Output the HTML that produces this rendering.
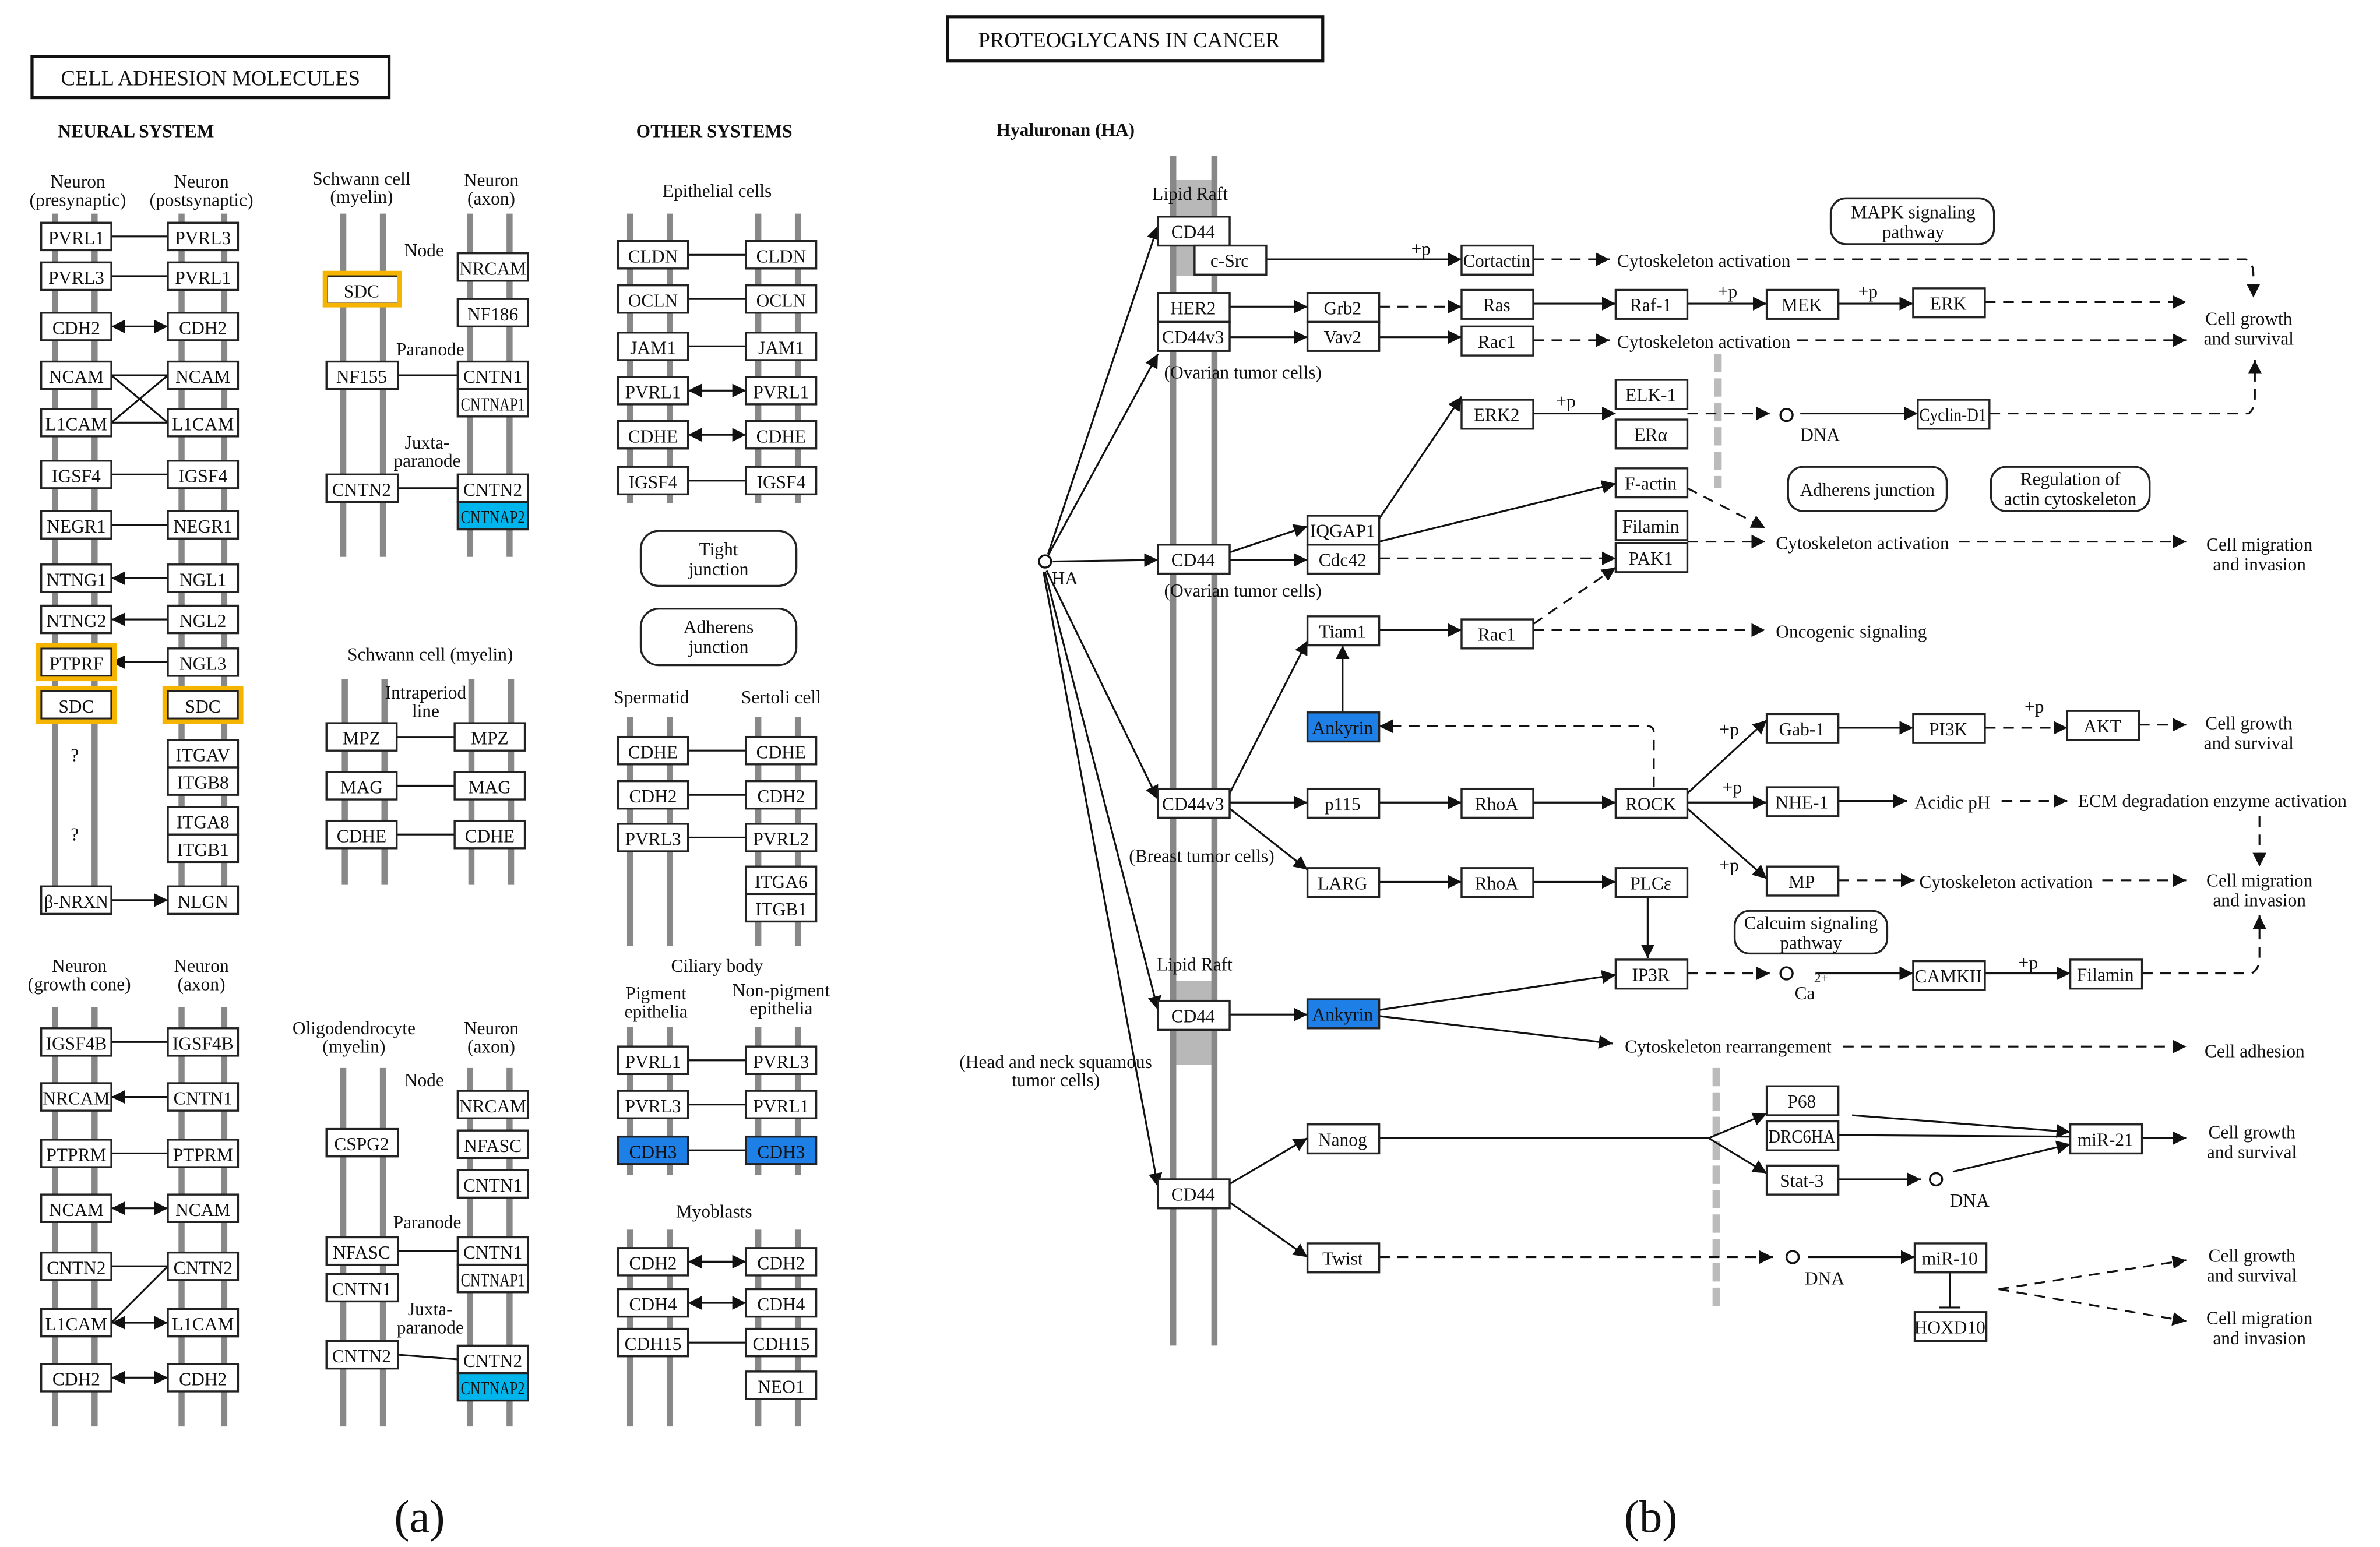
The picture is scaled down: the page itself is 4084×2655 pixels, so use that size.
<!DOCTYPE html>
<html><head><meta charset="utf-8"><style>
html,body{margin:0;padding:0;background:#fff;}
svg{display:block;}
text{font-family:"Liberation Serif",serif;font-size:12px;fill:#111;}
.b rect,rect.b{fill:#fff;stroke:#222;stroke-width:1.3;}
.t{text-anchor:middle;}
.m{stroke:#888;stroke-width:4;}
.l{stroke:#111;stroke-width:1.2;fill:none;}
.d{stroke:#111;stroke-width:1.2;fill:none;stroke-dasharray:7,5;}
.y{fill:none;stroke:#f5b400;stroke-width:3;}
.rb{fill:#fff;stroke:#222;stroke-width:1.3;}
</style></head><body>
<svg width="4084" height="2655" viewBox="0 0 1560 1014" preserveAspectRatio="none" xmlns="http://www.w3.org/2000/svg">
<defs>
<marker id="a" viewBox="0 0 10 10" refX="10" refY="5" markerWidth="9" markerHeight="9" markerUnits="userSpaceOnUse" orient="auto-start-reverse"><path d="M0,0L10,5L0,10z" fill="#111"/></marker>
</defs>
<rect width="1560" height="1014" fill="#fff"/>

<!-- ================= PANEL A ================= -->
<rect x="21" y="37" width="234" height="27" fill="#fff" stroke="#111" stroke-width="2"/>
<text x="138" y="56" class="t" style="font-size:14px">CELL ADHESION MOLECULES</text>
<text x="38" y="90" style="font-weight:bold;font-size:12px">NEURAL SYSTEM</text>
<text x="417" y="90" style="font-weight:bold;font-size:12px">OTHER SYSTEMS</text>

<!-- col1 section1 -->
<text x="51" y="123" class="t">Neuron</text><text x="51" y="135" class="t">(presynaptic)</text>
<text x="132" y="123" class="t">Neuron</text><text x="132" y="135" class="t">(postsynaptic)</text>
<line class="m" x1="36" y1="140" x2="36" y2="600"/><line class="m" x1="62" y1="140" x2="62" y2="600"/>
<line class="m" x1="119" y1="140" x2="119" y2="600"/><line class="m" x1="147" y1="140" x2="147" y2="600"/>
<g class="l">
<line x1="73" y1="155" x2="110" y2="155"/><line x1="73" y1="181" x2="110" y2="181"/>
<line x1="73" y1="214" x2="110" y2="214" marker-start="url(#a)" marker-end="url(#a)"/>
<line x1="73" y1="246" x2="110" y2="246"/><line x1="73" y1="277" x2="110" y2="277"/>
<line x1="73" y1="246" x2="110" y2="277"/><line x1="73" y1="277" x2="110" y2="246"/>
<line x1="73" y1="311" x2="110" y2="311"/><line x1="73" y1="344" x2="110" y2="344"/>
<line x1="110" y1="379" x2="73" y2="379" marker-end="url(#a)"/>
<line x1="110" y1="406" x2="73" y2="406" marker-end="url(#a)"/>
<line x1="110" y1="434" x2="73" y2="434" marker-end="url(#a)"/>
<line x1="73" y1="590" x2="110" y2="590" marker-end="url(#a)"/>
</g>
<g class="b">
<rect x="27" y="146" width="46" height="18"/><rect x="110" y="146" width="46" height="18"/>
<rect x="27" y="172" width="46" height="18"/><rect x="110" y="172" width="46" height="18"/>
<rect x="27" y="205" width="46" height="18"/><rect x="110" y="205" width="46" height="18"/>
<rect x="27" y="237" width="46" height="18"/><rect x="110" y="237" width="46" height="18"/>
<rect x="27" y="268" width="46" height="18"/><rect x="110" y="268" width="46" height="18"/>
<rect x="27" y="302" width="46" height="18"/><rect x="110" y="302" width="46" height="18"/>
<rect x="27" y="335" width="46" height="18"/><rect x="110" y="335" width="46" height="18"/>
<rect x="27" y="370" width="46" height="18"/><rect x="110" y="370" width="46" height="18"/>
<rect x="27" y="397" width="46" height="18"/><rect x="110" y="397" width="46" height="18"/>
<rect x="27" y="425" width="46" height="18"/><rect x="110" y="425" width="46" height="18"/>
<rect x="27" y="453" width="46" height="18"/><rect x="110" y="453" width="46" height="18"/>
<rect x="110" y="485" width="46" height="18"/><rect x="110" y="503" width="46" height="18"/>
<rect x="110" y="529" width="46" height="18"/><rect x="110" y="547" width="46" height="18"/>
<rect x="27" y="581" width="46" height="18"/><rect x="110" y="581" width="46" height="18"/>
</g>
<rect class="y" x="25" y="423" width="50" height="22"/><rect class="y" x="25" y="451" width="50" height="22"/><rect class="y" x="108" y="451" width="50" height="22"/>
<g class="t">
<text x="50" y="160">PVRL1</text><text x="133" y="160">PVRL3</text>
<text x="50" y="186">PVRL3</text><text x="133" y="186">PVRL1</text>
<text x="50" y="219">CDH2</text><text x="133" y="219">CDH2</text>
<text x="50" y="251">NCAM</text><text x="133" y="251">NCAM</text>
<text x="50" y="282">L1CAM</text><text x="133" y="282">L1CAM</text>
<text x="50" y="316">IGSF4</text><text x="133" y="316">IGSF4</text>
<text x="50" y="349">NEGR1</text><text x="133" y="349">NEGR1</text>
<text x="50" y="384">NTNG1</text><text x="133" y="384">NGL1</text>
<text x="50" y="411">NTNG2</text><text x="133" y="411">NGL2</text>
<text x="50" y="439">PTPRF</text><text x="133" y="439">NGL3</text>
<text x="50" y="467">SDC</text><text x="133" y="467">SDC</text>
<text x="133" y="499">ITGAV</text><text x="133" y="517">ITGB8</text>
<text x="133" y="543">ITGA8</text><text x="133" y="561">ITGB1</text>
<text x="49" y="499">?</text><text x="49" y="551">?</text>
<text x="50" y="595" textLength="42" lengthAdjust="spacingAndGlyphs">β-NRXN</text><text x="133" y="595">NLGN</text>
</g>

<!-- col1 section3 -->
<text x="52" y="637" class="t">Neuron</text><text x="52" y="649" class="t">(growth cone)</text>
<text x="132" y="637" class="t">Neuron</text><text x="132" y="649" class="t">(axon)</text>
<line class="m" x1="36" y1="660" x2="36" y2="935"/><line class="m" x1="62" y1="660" x2="62" y2="935"/>
<line class="m" x1="119" y1="660" x2="119" y2="935"/><line class="m" x1="147" y1="660" x2="147" y2="935"/>
<g class="l">
<line x1="73" y1="683" x2="110" y2="683"/>
<line x1="110" y1="719" x2="73" y2="719" marker-end="url(#a)"/>
<line x1="73" y1="756" x2="110" y2="756"/>
<line x1="73" y1="792" x2="110" y2="792" marker-start="url(#a)" marker-end="url(#a)"/>
<line x1="73" y1="830" x2="110" y2="830"/>
<line x1="110" y1="830" x2="73" y2="867"/>
<line x1="73" y1="867" x2="110" y2="867" marker-start="url(#a)" marker-end="url(#a)"/>
<line x1="73" y1="903" x2="110" y2="903" marker-start="url(#a)" marker-end="url(#a)"/>
</g>
<g class="b">
<rect x="27" y="674" width="46" height="18"/><rect x="110" y="674" width="46" height="18"/>
<rect x="27" y="710" width="46" height="18"/><rect x="110" y="710" width="46" height="18"/>
<rect x="27" y="747" width="46" height="18"/><rect x="110" y="747" width="46" height="18"/>
<rect x="27" y="783" width="46" height="18"/><rect x="110" y="783" width="46" height="18"/>
<rect x="27" y="821" width="46" height="18"/><rect x="110" y="821" width="46" height="18"/>
<rect x="27" y="858" width="46" height="18"/><rect x="110" y="858" width="46" height="18"/>
<rect x="27" y="894" width="46" height="18"/><rect x="110" y="894" width="46" height="18"/>
</g>
<g class="t">
<text x="50" y="688">IGSF4B</text><text x="133" y="688">IGSF4B</text>
<text x="50" y="724">NRCAM</text><text x="133" y="724">CNTN1</text>
<text x="50" y="761">PTPRM</text><text x="133" y="761">PTPRM</text>
<text x="50" y="797">NCAM</text><text x="133" y="797">NCAM</text>
<text x="50" y="835">CNTN2</text><text x="133" y="835">CNTN2</text>
<text x="50" y="872">L1CAM</text><text x="133" y="872">L1CAM</text>
<text x="50" y="908">CDH2</text><text x="133" y="908">CDH2</text>
</g>

<!-- col2 section1 -->
<text x="237" y="121" class="t">Schwann cell</text><text x="237" y="133" class="t">(myelin)</text>
<text x="322" y="122" class="t">Neuron</text><text x="322" y="134" class="t">(axon)</text>
<line class="m" x1="225" y1="140" x2="225" y2="365"/><line class="m" x1="251" y1="140" x2="251" y2="365"/>
<line class="m" x1="308" y1="140" x2="308" y2="365"/><line class="m" x1="334" y1="140" x2="334" y2="365"/>
<text x="278" y="168" class="t">Node</text>
<text x="282" y="233" class="t">Paranode</text>
<text x="280" y="294" class="t">Juxta-</text><text x="280" y="306" class="t">paranode</text>
<g class="l"><line x1="261" y1="246" x2="300" y2="246"/><line x1="261" y1="320" x2="300" y2="320"/></g>
<g class="b">
<rect x="214" y="181" width="47" height="18"/>
<rect x="300" y="166" width="46" height="18"/><rect x="300" y="196" width="46" height="18"/>
<rect x="214" y="237" width="47" height="18"/>
<rect x="300" y="237" width="46" height="18"/><rect x="300" y="255" width="46" height="18"/>
<rect x="214" y="311" width="47" height="18"/>
<rect x="300" y="311" width="46" height="18"/>
</g>
<rect x="300" y="329" width="46" height="18" fill="#00b4ec" stroke="#222" stroke-width="1.3"/>
<rect class="y" x="213" y="179" width="49" height="21"/>
<g class="t">
<text x="237" y="195">SDC</text>
<text x="323" y="180">NRCAM</text><text x="323" y="210">NF186</text>
<text x="237" y="251">NF155</text><text x="323" y="251">CNTN1</text>
<text x="323" y="269" textLength="42" lengthAdjust="spacingAndGlyphs">CNTNAP1</text>
<text x="237" y="325">CNTN2</text><text x="323" y="325">CNTN2</text>
<text x="323" y="343" textLength="42" lengthAdjust="spacingAndGlyphs">CNTNAP2</text>
</g>

<!-- col2 section2 -->
<text x="282" y="433" class="t">Schwann cell (myelin)</text>
<line class="m" x1="226" y1="445" x2="226" y2="580"/><line class="m" x1="252" y1="445" x2="252" y2="580"/>
<line class="m" x1="309" y1="445" x2="309" y2="580"/><line class="m" x1="335" y1="445" x2="335" y2="580"/>
<text x="279" y="458" class="t">Intraperiod</text><text x="279" y="470" class="t">line</text>
<g class="l"><line x1="260" y1="483" x2="298" y2="483"/><line x1="260" y1="515" x2="298" y2="515"/><line x1="260" y1="547" x2="298" y2="547"/></g>
<g class="b">
<rect x="214" y="474" width="46" height="18"/><rect x="298" y="474" width="46" height="18"/>
<rect x="214" y="506" width="46" height="18"/><rect x="298" y="506" width="46" height="18"/>
<rect x="214" y="538" width="46" height="18"/><rect x="298" y="538" width="46" height="18"/>
</g>
<g class="t">
<text x="237" y="488">MPZ</text><text x="321" y="488">MPZ</text>
<text x="237" y="520">MAG</text><text x="321" y="520">MAG</text>
<text x="237" y="552">CDHE</text><text x="321" y="552">CDHE</text>
</g>

<!-- col2 section3 -->
<text x="232" y="678" class="t">Oligodendrocyte</text><text x="232" y="690" class="t">(myelin)</text>
<text x="322" y="678" class="t">Neuron</text><text x="322" y="690" class="t">(axon)</text>
<line class="m" x1="225" y1="700" x2="225" y2="935"/><line class="m" x1="251" y1="700" x2="251" y2="935"/>
<line class="m" x1="308" y1="700" x2="308" y2="935"/><line class="m" x1="334" y1="700" x2="334" y2="935"/>
<text x="278" y="712" class="t">Node</text>
<text x="280" y="805" class="t">Paranode</text>
<text x="282" y="862" class="t">Juxta-</text><text x="282" y="874" class="t">paranode</text>
<g class="l"><line x1="261" y1="820" x2="300" y2="820"/><line x1="261" y1="888" x2="300" y2="891"/></g>
<g class="b">
<rect x="300" y="715" width="46" height="18"/>
<rect x="214" y="740" width="47" height="18"/>
<rect x="300" y="741" width="46" height="18"/>
<rect x="300" y="767" width="46" height="18"/>
<rect x="214" y="811" width="47" height="18"/>
<rect x="300" y="811" width="46" height="18"/><rect x="300" y="829" width="46" height="18"/>
<rect x="214" y="835" width="47" height="18"/>
<rect x="214" y="879" width="47" height="18"/>
<rect x="300" y="882" width="46" height="18"/>
</g>
<rect x="300" y="900" width="46" height="18" fill="#00b4ec" stroke="#222" stroke-width="1.3"/>
<g class="t">
<text x="323" y="729">NRCAM</text>
<text x="237" y="754">CSPG2</text><text x="323" y="755">NFASC</text>
<text x="323" y="781">CNTN1</text>
<text x="237" y="825">NFASC</text><text x="323" y="825">CNTN1</text>
<text x="323" y="843" textLength="42" lengthAdjust="spacingAndGlyphs">CNTNAP1</text>
<text x="237" y="849">CNTN1</text>
<text x="237" y="893">CNTN2</text><text x="323" y="896">CNTN2</text>
<text x="323" y="914" textLength="42" lengthAdjust="spacingAndGlyphs">CNTNAP2</text>
</g>

<!-- col3 -->
<text x="470" y="129" class="t">Epithelial cells</text>
<line class="m" x1="413" y1="140" x2="413" y2="330"/><line class="m" x1="439" y1="140" x2="439" y2="330"/>
<line class="m" x1="497" y1="140" x2="497" y2="330"/><line class="m" x1="523" y1="140" x2="523" y2="330"/>
<g class="l">
<line x1="451" y1="167" x2="489" y2="167"/><line x1="451" y1="196" x2="489" y2="196"/><line x1="451" y1="227" x2="489" y2="227"/>
<line x1="451" y1="256" x2="489" y2="256" marker-start="url(#a)" marker-end="url(#a)"/>
<line x1="451" y1="285" x2="489" y2="285" marker-start="url(#a)" marker-end="url(#a)"/>
<line x1="451" y1="315" x2="489" y2="315"/>
</g>
<g class="b">
<rect x="405" y="158" width="46" height="18"/><rect x="489" y="158" width="46" height="18"/>
<rect x="405" y="187" width="46" height="18"/><rect x="489" y="187" width="46" height="18"/>
<rect x="405" y="218" width="46" height="18"/><rect x="489" y="218" width="46" height="18"/>
<rect x="405" y="247" width="46" height="18"/><rect x="489" y="247" width="46" height="18"/>
<rect x="405" y="276" width="46" height="18"/><rect x="489" y="276" width="46" height="18"/>
<rect x="405" y="306" width="46" height="18"/><rect x="489" y="306" width="46" height="18"/>
</g>
<g class="t">
<text x="428" y="172">CLDN</text><text x="512" y="172">CLDN</text>
<text x="428" y="201">OCLN</text><text x="512" y="201">OCLN</text>
<text x="428" y="232">JAM1</text><text x="512" y="232">JAM1</text>
<text x="428" y="261">PVRL1</text><text x="512" y="261">PVRL1</text>
<text x="428" y="290">CDHE</text><text x="512" y="290">CDHE</text>
<text x="428" y="320">IGSF4</text><text x="512" y="320">IGSF4</text>
</g>
<rect class="rb" x="420" y="348" width="102" height="36" rx="12"/>
<text x="471" y="364" class="t">Tight</text><text x="471" y="377" class="t">junction</text>
<rect class="rb" x="420" y="399" width="102" height="37" rx="12"/>
<text x="471" y="415" class="t">Adherens</text><text x="471" y="428" class="t">junction</text>

<text x="427" y="461" class="t">Spermatid</text><text x="512" y="461" class="t">Sertoli cell</text>
<line class="m" x1="413" y1="470" x2="413" y2="620"/><line class="m" x1="439" y1="470" x2="439" y2="620"/>
<line class="m" x1="497" y1="470" x2="497" y2="620"/><line class="m" x1="523" y1="470" x2="523" y2="620"/>
<g class="l"><line x1="451" y1="492" x2="489" y2="492"/><line x1="451" y1="521" x2="489" y2="521"/><line x1="451" y1="549" x2="489" y2="549"/></g>
<g class="b">
<rect x="405" y="483" width="46" height="18"/><rect x="489" y="483" width="46" height="18"/>
<rect x="405" y="512" width="46" height="18"/><rect x="489" y="512" width="46" height="18"/>
<rect x="405" y="540" width="46" height="18"/><rect x="489" y="540" width="46" height="18"/>
<rect x="489" y="568" width="46" height="18"/><rect x="489" y="586" width="46" height="18"/>
</g>
<g class="t">
<text x="428" y="497">CDHE</text><text x="512" y="497">CDHE</text>
<text x="428" y="526">CDH2</text><text x="512" y="526">CDH2</text>
<text x="428" y="554">PVRL3</text><text x="512" y="554">PVRL2</text>
<text x="512" y="582">ITGA6</text><text x="512" y="600">ITGB1</text>
</g>

<text x="470" y="637" class="t">Ciliary body</text>
<text x="430" y="655" class="t">Pigment</text><text x="430" y="667" class="t">epithelia</text>
<text x="512" y="653" class="t">Non-pigment</text><text x="512" y="665" class="t">epithelia</text>
<line class="m" x1="413" y1="673" x2="413" y2="770"/><line class="m" x1="439" y1="673" x2="439" y2="770"/>
<line class="m" x1="497" y1="673" x2="497" y2="770"/><line class="m" x1="523" y1="673" x2="523" y2="770"/>
<g class="l"><line x1="451" y1="695" x2="489" y2="695"/><line x1="451" y1="724" x2="489" y2="724"/><line x1="451" y1="754" x2="489" y2="754"/></g>
<g class="b">
<rect x="405" y="686" width="46" height="18"/><rect x="489" y="686" width="46" height="18"/>
<rect x="405" y="715" width="46" height="18"/><rect x="489" y="715" width="46" height="18"/>
</g>
<rect x="405" y="745" width="46" height="18" fill="#1e7fe6" stroke="#222" stroke-width="1.3"/>
<rect x="489" y="745" width="46" height="18" fill="#1e7fe6" stroke="#222" stroke-width="1.3"/>
<g class="t">
<text x="428" y="700">PVRL1</text><text x="512" y="700">PVRL3</text>
<text x="428" y="729">PVRL3</text><text x="512" y="729">PVRL1</text>
<text x="428" y="759">CDH3</text><text x="512" y="759">CDH3</text>
</g>

<text x="468" y="798" class="t">Myoblasts</text>
<line class="m" x1="413" y1="806" x2="413" y2="935"/><line class="m" x1="439" y1="806" x2="439" y2="935"/>
<line class="m" x1="497" y1="806" x2="497" y2="935"/><line class="m" x1="523" y1="806" x2="523" y2="935"/>
<g class="l">
<line x1="451" y1="827" x2="489" y2="827" marker-start="url(#a)" marker-end="url(#a)"/>
<line x1="451" y1="854" x2="489" y2="854" marker-start="url(#a)" marker-end="url(#a)"/>
<line x1="451" y1="880" x2="489" y2="880"/>
</g>
<g class="b">
<rect x="405" y="818" width="46" height="18"/><rect x="489" y="818" width="46" height="18"/>
<rect x="405" y="845" width="46" height="18"/><rect x="489" y="845" width="46" height="18"/>
<rect x="405" y="871" width="46" height="18"/><rect x="489" y="871" width="46" height="18"/>
<rect x="489" y="899" width="46" height="18"/>
</g>
<g class="t">
<text x="428" y="832">CDH2</text><text x="512" y="832">CDH2</text>
<text x="428" y="859">CDH4</text><text x="512" y="859">CDH4</text>
<text x="428" y="885">CDH15</text><text x="512" y="885">CDH15</text>
<text x="512" y="913">NEO1</text>
</g>

<text x="275" y="1004" class="t" style="font-size:30px">(a)</text>
<text x="1082" y="1004" class="t" style="font-size:30px">(b)</text>

<!-- ================= PANEL B ================= -->
<rect x="621" y="11" width="246" height="29" fill="#fff" stroke="#111" stroke-width="2"/>
<text x="740" y="31" class="t" style="font-size:14px">PROTEOGLYCANS IN CANCER</text>
<text x="653" y="89" style="font-weight:bold;font-size:12px">Hyaluronan (HA)</text>

<rect x="769" y="118" width="27" height="63" fill="#b8b8b8"/>
<rect x="769" y="643" width="27" height="55" fill="#b8b8b8"/>
<line class="m" x1="769" y1="102" x2="769" y2="882"/><line class="m" x1="796" y1="102" x2="796" y2="882"/>
<text x="780" y="131" class="t">Lipid Raft</text>
<text x="783" y="636" class="t">Lipid Raft</text>
<line x1="1126" y1="232" x2="1126" y2="320" stroke="#bbb" stroke-width="5" stroke-dasharray="12,4"/>
<line x1="1125" y1="700" x2="1125" y2="857" stroke="#bbb" stroke-width="5" stroke-dasharray="12,4"/>

<!-- HA -->
<circle cx="685" cy="368" r="4" fill="#fff" stroke="#111" stroke-width="1.3"/>
<text x="698" y="383" class="t">HA</text>
<g class="l">
<line x1="687" y1="363" x2="759" y2="148" marker-end="url(#a)"/>
<line x1="687" y1="364" x2="759" y2="232" marker-end="url(#a)"/>
<line x1="690" y1="368" x2="759" y2="367" marker-end="url(#a)"/>
<line x1="686" y1="374" x2="759" y2="524" marker-end="url(#a)"/>
<line x1="685" y1="375" x2="759" y2="662" marker-end="url(#a)"/>
<line x1="684" y1="375" x2="759" y2="778" marker-end="url(#a)"/>
</g>

<!-- connections -->
<g class="l">
<line x1="830" y1="170" x2="958" y2="170" marker-end="url(#a)"/>
<line x1="806" y1="201" x2="857" y2="201" marker-end="url(#a)"/>
<line x1="1005" y1="199" x2="1059" y2="199" marker-end="url(#a)"/>
<line x1="1106" y1="199" x2="1158" y2="199" marker-end="url(#a)"/>
<line x1="1205" y1="199" x2="1254" y2="199" marker-end="url(#a)"/>
<line x1="806" y1="221" x2="857" y2="221" marker-end="url(#a)"/>
<line x1="904" y1="221" x2="958" y2="221" marker-end="url(#a)"/>
<line x1="904" y1="340" x2="958" y2="260" marker-end="url(#a)"/>
<line x1="1005" y1="271" x2="1059" y2="271" marker-end="url(#a)"/>
<line x1="1180" y1="271" x2="1257" y2="271" marker-end="url(#a)"/>
<line x1="806" y1="362" x2="857" y2="345" marker-end="url(#a)"/>
<line x1="806" y1="367" x2="857" y2="367" marker-end="url(#a)"/>
<line x1="904" y1="355" x2="1059" y2="317" marker-end="url(#a)"/>
<line x1="904" y1="413" x2="958" y2="413" marker-end="url(#a)"/>
<line x1="880" y1="467" x2="880" y2="423" marker-end="url(#a)"/>
<line x1="806" y1="520" x2="857" y2="420" marker-end="url(#a)"/>
<line x1="806" y1="526" x2="857" y2="526" marker-end="url(#a)"/>
<line x1="806" y1="530" x2="857" y2="570" marker-end="url(#a)"/>
<line x1="904" y1="526" x2="958" y2="526" marker-end="url(#a)"/>
<line x1="1005" y1="526" x2="1059" y2="526" marker-end="url(#a)"/>
<line x1="1106" y1="520" x2="1158" y2="472" marker-end="url(#a)"/>
<line x1="1106" y1="526" x2="1158" y2="526" marker-end="url(#a)"/>
<line x1="1106" y1="530" x2="1158" y2="576" marker-end="url(#a)"/>
<line x1="1205" y1="477" x2="1254" y2="477" marker-end="url(#a)"/>
<line x1="1205" y1="525" x2="1250" y2="525" marker-end="url(#a)"/>
<line x1="904" y1="578" x2="958" y2="578" marker-end="url(#a)"/>
<line x1="1005" y1="578" x2="1059" y2="578" marker-end="url(#a)"/>
<line x1="1080" y1="588" x2="1080" y2="628" marker-end="url(#a)"/>
<line x1="1190" y1="638" x2="1254" y2="638" marker-end="url(#a)"/>
<line x1="1301" y1="638" x2="1357" y2="638" marker-end="url(#a)"/>
<line x1="806" y1="665" x2="857" y2="665" marker-end="url(#a)"/>
<line x1="904" y1="662" x2="1059" y2="639" marker-end="url(#a)"/>
<line x1="904" y1="666" x2="1057" y2="684" marker-end="url(#a)"/>
<line x1="806" y1="776" x2="857" y2="746" marker-end="url(#a)"/>
<line x1="806" y1="788" x2="857" y2="824" marker-end="url(#a)"/>
<line x1="904" y1="746" x2="1120" y2="746"/>
<line x1="1120" y1="746" x2="1158" y2="730" marker-end="url(#a)"/>
<line x1="1120" y1="746" x2="1158" y2="769" marker-end="url(#a)"/>
<line x1="1214" y1="731" x2="1357" y2="742" marker-end="url(#a)"/>
<line x1="1205" y1="744" x2="1357" y2="745"/>
<line x1="1205" y1="773" x2="1259" y2="773" marker-end="url(#a)"/>
<line x1="1280" y1="768" x2="1357" y2="750" marker-end="url(#a)"/>
<line x1="1404" y1="746" x2="1433" y2="746" marker-end="url(#a)"/>
<line x1="1185" y1="824" x2="1255" y2="824" marker-end="url(#a)"/>
<line x1="1278" y1="834" x2="1278" y2="857"/><line x1="1271" y1="857" x2="1285" y2="857"/>
</g>
<g class="d">
<line x1="1005" y1="170" x2="1055" y2="170" marker-end="url(#a)"/>
<path d="M1178,170 L1472,170 Q1477,172 1477,180 L1477,195" marker-end="url(#a)"/>
<line x1="904" y1="201" x2="958" y2="201" marker-end="url(#a)"/>
<line x1="1301" y1="198" x2="1433" y2="198" marker-end="url(#a)"/>
<line x1="1005" y1="223" x2="1055" y2="223" marker-end="url(#a)"/>
<line x1="1178" y1="223" x2="1433" y2="223" marker-end="url(#a)"/>
<line x1="1106" y1="271" x2="1160" y2="271" marker-end="url(#a)"/>
<path d="M1304,271 L1474,271 Q1478,268 1478,260 L1478,236" marker-end="url(#a)"/>
<line x1="904" y1="366" x2="1059" y2="366" marker-end="url(#a)"/>
<line x1="1106" y1="320" x2="1157" y2="346" marker-end="url(#a)"/>
<line x1="1005" y1="409" x2="1059" y2="372" marker-end="url(#a)"/>
<line x1="1106" y1="355" x2="1157" y2="355" marker-end="url(#a)"/>
<line x1="1284" y1="355" x2="1433" y2="355" marker-end="url(#a)"/>
<line x1="1005" y1="413" x2="1157" y2="413" marker-end="url(#a)"/>
<path d="M1084,516 L1084,480 Q1084,476 1080,476 L904,476" marker-end="url(#a)"/>
<line x1="1301" y1="477" x2="1355" y2="477" marker-end="url(#a)"/>
<line x1="1402" y1="475" x2="1433" y2="475" marker-end="url(#a)"/>
<line x1="1312" y1="525" x2="1355" y2="525" marker-end="url(#a)"/>
<line x1="1481" y1="535" x2="1481" y2="568" marker-end="url(#a)"/>
<line x1="1205" y1="577" x2="1255" y2="577" marker-end="url(#a)"/>
<line x1="1378" y1="577" x2="1433" y2="577" marker-end="url(#a)"/>
<line x1="1106" y1="638" x2="1160" y2="638" marker-end="url(#a)"/>
<path d="M1404,638 L1476,638 Q1481,635 1481,628 L1481,600" marker-end="url(#a)"/>
<line x1="1208" y1="686" x2="1433" y2="686" marker-end="url(#a)"/>
<line x1="904" y1="824" x2="1162" y2="824" marker-end="url(#a)"/>
<line x1="1310" y1="845" x2="1433" y2="826" marker-end="url(#a)"/>
<line x1="1310" y1="845" x2="1433" y2="866" marker-end="url(#a)"/>
</g>

<g class="b">
<rect x="759" y="142" width="47" height="19"/>
<rect x="783" y="161" width="47" height="19"/>
<rect x="958" y="161" width="47" height="19"/>
<rect x="759" y="192" width="47" height="19"/>
<rect x="759" y="211" width="47" height="19"/>
<rect x="857" y="192" width="47" height="19"/>
<rect x="857" y="211" width="47" height="19"/>
<rect x="958" y="190" width="47" height="19"/>
<rect x="958" y="214" width="47" height="19"/>
<rect x="1059" y="190" width="47" height="19"/>
<rect x="1158" y="190" width="47" height="19"/>
<rect x="1254" y="189" width="47" height="19"/>
<rect x="1059" y="249" width="47" height="19"/>
<rect x="1059" y="275" width="47" height="19"/>
<rect x="958" y="262" width="47" height="19"/>
<rect x="1257" y="262" width="47" height="19"/>
<rect x="1059" y="307" width="47" height="19"/>
<rect x="1059" y="335" width="47" height="19"/>
<rect x="1059" y="356" width="47" height="19"/>
<rect x="857" y="338" width="47" height="19"/>
<rect x="857" y="357" width="47" height="19"/>
<rect x="759" y="357" width="47" height="19"/>
<rect x="857" y="404" width="47" height="19"/>
<rect x="958" y="406" width="47" height="19"/>
<rect x="1158" y="468" width="47" height="19"/>
<rect x="1254" y="468" width="47" height="19"/>
<rect x="1355" y="466" width="47" height="19"/>
<rect x="759" y="517" width="47" height="19"/>
<rect x="857" y="517" width="47" height="19"/>
<rect x="958" y="517" width="47" height="19"/>
<rect x="1059" y="517" width="47" height="19"/>
<rect x="1158" y="516" width="47" height="19"/>
<rect x="857" y="569" width="47" height="19"/>
<rect x="958" y="569" width="47" height="19"/>
<rect x="1059" y="569" width="47" height="19"/>
<rect x="1158" y="568" width="47" height="19"/>
<rect x="1059" y="629" width="47" height="19"/>
<rect x="1254" y="630" width="47" height="19"/>
<rect x="1357" y="629" width="47" height="19"/>
<rect x="759" y="656" width="47" height="19"/>
<rect x="857" y="737" width="47" height="19"/>
<rect x="1158" y="712" width="47" height="19"/>
<rect x="1158" y="735" width="47" height="19"/>
<rect x="1158" y="764" width="47" height="19"/>
<rect x="1357" y="737" width="47" height="19"/>
<rect x="759" y="773" width="47" height="19"/>
<rect x="857" y="815" width="47" height="19"/>
<rect x="1255" y="815" width="47" height="19"/>
<rect x="1255" y="860" width="47" height="19"/>
</g>
<rect x="857" y="467" width="47" height="19" fill="#1e7fe6" stroke="#222" stroke-width="1.3"/>
<rect x="857" y="655" width="47" height="19" fill="#1e7fe6" stroke="#222" stroke-width="1.3"/>

<g class="t">
<text x="782" y="156">CD44</text>
<text x="806" y="175">c-Src</text>
<text x="981" y="175" textLength="44" lengthAdjust="spacingAndGlyphs">Cortactin</text>
<text x="782" y="206">HER2</text>
<text x="782" y="225">CD44v3</text>
<text x="880" y="206">Grb2</text>
<text x="880" y="225">Vav2</text>
<text x="981" y="204">Ras</text>
<text x="981" y="228">Rac1</text>
<text x="1082" y="204">Raf-1</text>
<text x="1181" y="204">MEK</text>
<text x="1277" y="203">ERK</text>
<text x="1082" y="263">ELK-1</text>
<text x="1082" y="289">ERα</text>
<text x="981" y="276">ERK2</text>
<text x="1280" y="276" textLength="44" lengthAdjust="spacingAndGlyphs">Cyclin-D1</text>
<text x="1082" y="321">F-actin</text>
<text x="1082" y="349">Filamin</text>
<text x="1082" y="370">PAK1</text>
<text x="880" y="352">IQGAP1</text>
<text x="880" y="371">Cdc42</text>
<text x="782" y="371">CD44</text>
<text x="880" y="418">Tiam1</text>
<text x="981" y="420">Rac1</text>
<text x="880" y="481">Ankyrin</text>
<text x="1181" y="482">Gab-1</text>
<text x="1277" y="482">PI3K</text>
<text x="1378" y="480">AKT</text>
<text x="782" y="531">CD44v3</text>
<text x="880" y="531">p115</text>
<text x="981" y="531">RhoA</text>
<text x="1082" y="531">ROCK</text>
<text x="1181" y="530">NHE-1</text>
<text x="880" y="583">LARG</text>
<text x="981" y="583">RhoA</text>
<text x="1082" y="583">PLCε</text>
<text x="1181" y="582">MP</text>
<text x="1082" y="643">IP3R</text>
<text x="1277" y="644">CAMKII</text>
<text x="1380" y="643">Filamin</text>
<text x="782" y="670">CD44</text>
<text x="880" y="669">Ankyrin</text>
<text x="880" y="751">Nanog</text>
<text x="1181" y="726">P68</text>
<text x="1181" y="749" textLength="44" lengthAdjust="spacingAndGlyphs">DRC6HA</text>
<text x="1181" y="778">Stat-3</text>
<text x="1380" y="751">miR-21</text>
<text x="782" y="787">CD44</text>
<text x="880" y="829">Twist</text>
<text x="1278" y="829">miR-10</text>
<text x="1278" y="874">HOXD10</text>
</g>

<!-- plus p labels -->
<g>
<text x="925" y="167">+p</text>
<text x="1126" y="195">+p</text>
<text x="1218" y="195">+p</text>
<text x="1020" y="267">+p</text>
<text x="1127" y="482">+p</text>
<text x="1129" y="520">+p</text>
<text x="1127" y="571">+p</text>
<text x="1327" y="467">+p</text>
<text x="1323" y="635">+p</text>
</g>

<!-- DNA circles -->
<circle cx="1171" cy="272" r="4" fill="#fff" stroke="#111" stroke-width="1.3"/><text x="1193" y="289" class="t">DNA</text>
<circle cx="1171" cy="638" r="4" fill="#fff" stroke="#111" stroke-width="1.3"/><text x="1183" y="655" class="t">Ca</text><text x="1189" y="644" style="font-size:9px">2+</text>
<circle cx="1269" cy="773" r="4" fill="#fff" stroke="#111" stroke-width="1.3"/><text x="1291" y="791" class="t">DNA</text>
<circle cx="1175" cy="824" r="4" fill="#fff" stroke="#111" stroke-width="1.3"/><text x="1196" y="842" class="t">DNA</text>

<!-- rounded boxes -->
<rect class="rb" x="1200" y="130" width="107" height="30" rx="10"/>
<text x="1254" y="143" class="t">MAPK signaling</text><text x="1254" y="156" class="t">pathway</text>
<rect class="rb" x="1172" y="306" width="104" height="29" rx="10"/>
<text x="1224" y="325" class="t">Adherens junction</text>
<rect class="rb" x="1305" y="306" width="104" height="29" rx="10"/>
<text x="1357" y="318" class="t">Regulation of</text><text x="1357" y="331" class="t">actin cytoskeleton</text>
<rect class="rb" x="1137" y="597" width="100" height="28" rx="10"/>
<text x="1187" y="609" class="t">Calcuim signaling</text><text x="1187" y="622" class="t">pathway</text>

<!-- free text -->
<g>
<text x="1060" y="175">Cytoskeleton activation</text>
<text x="1060" y="228">Cytoskeleton activation</text>
<text x="1164" y="360">Cytoskeleton activation</text>
<text x="1258" y="582">Cytoskeleton activation</text>
<text x="1164" y="418">Oncogenic signaling</text>
<text x="1255" y="530">Acidic pH</text>
<text x="1362" y="529">ECM degradation enzyme activation</text>
<text x="1065" y="690">Cytoskeleton rearrangement</text>
<text x="1445" y="693">Cell adhesion</text>
<text x="763" y="248">(Ovarian tumor cells)</text>
<text x="763" y="391">(Ovarian tumor cells)</text>
<text x="740" y="565">(Breast tumor cells)</text>
</g>
<g class="t">
<text x="692" y="700">(Head and neck squamous</text><text x="692" y="712">tumor cells)</text>
<text x="1474" y="213">Cell growth</text><text x="1474" y="226">and survival</text>
<text x="1474" y="478">Cell growth</text><text x="1474" y="491">and survival</text>
<text x="1476" y="746">Cell growth</text><text x="1476" y="759">and survival</text>
<text x="1476" y="827">Cell growth</text><text x="1476" y="840">and survival</text>
<text x="1481" y="361">Cell migration</text><text x="1481" y="374">and invasion</text>
<text x="1481" y="581">Cell migration</text><text x="1481" y="594">and invasion</text>
<text x="1481" y="868">Cell migration</text><text x="1481" y="881">and invasion</text>
</g>
</svg>
</body></html>
